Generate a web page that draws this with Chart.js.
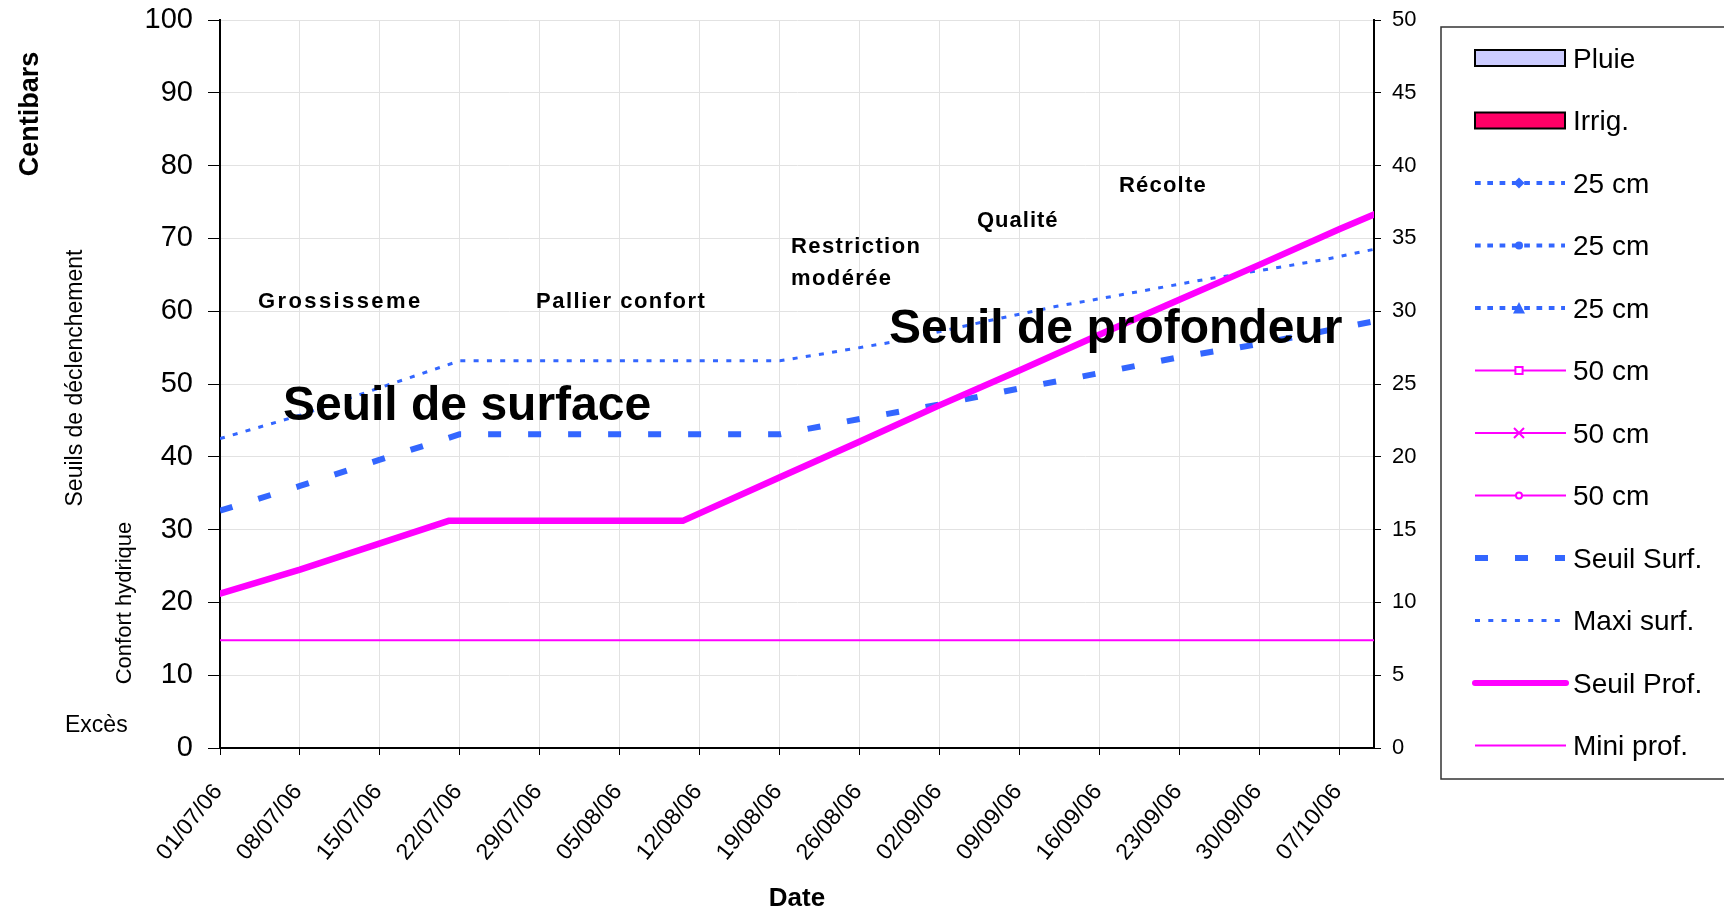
<!DOCTYPE html>
<html>
<head>
<meta charset="utf-8">
<script src="https://cdn.jsdelivr.net/npm/chart.js@4.4.1/dist/chart.umd.min.js"></script>
<style>
  html, body { margin: 0; padding: 0; background: #fff; }
  #wrap { width: 1724px; height: 914px; }
</style>
</head>
<body>
<div id="wrap"><canvas id="chart" width="1724" height="914"></canvas></div>
<script>
// x axis = days since 01/07/06
const startDate = Date.UTC(2006, 6, 1);
const lastDay = 101;
const tickStep = 7;

// Seuil de surface (centibars)
const seuilSurfDays   = [0, 7, 14, 21, 49, 56, 63, 70, 77, 84, 91, 98, 101];
const seuilSurfValues = [32.6, 36.0, 39.6, 43.1, 43.1, 45.2, 47.2, 49.4, 51.5, 53.7, 55.5, 57.7, 58.6];

// Maxi surface
const maxiSurfDays   = [0, 7, 14, 21, 49, 53, 59, 67, 73, 78, 86, 93, 97, 101];
const maxiSurfValues = [42.5, 45.7, 49.5, 53.2, 53.2, 54.2, 55.8, 58.6, 60.6, 62.0, 64.3, 66.1, 67.2, 68.5];

// Seuil de profondeur
const seuilProfDays   = [0, 7, 14, 20, 40.5, 49, 56, 63, 70, 77, 84, 91, 98, 101];
const seuilProfValues = [21.2, 24.5, 28.1, 31.2, 31.2, 37.2, 42.1, 47.1, 51.9, 56.8, 61.6, 66.4, 71.3, 73.3];

// Mini profondeur
const miniProfDays   = [0, 101];
const miniProfValues = [14.8, 14.8];

const FONT = '"Liberation Sans", Arial, sans-serif';
const blue = '#3366ff';
const magenta = '#ff00ff';

function pts(days, values) {
  return days.map((d, i) => ({ x: d, y: values[i] }));
}

function dayLabel(d) {
  const t = new Date(startDate + d * 86400000);
  const dd = String(t.getUTCDate()).padStart(2, '0');
  const mm = String(t.getUTCMonth() + 1).padStart(2, '0');
  const yy = String(t.getUTCFullYear()).slice(2);
  return dd + '/' + mm + '/' + yy;
}

// free text on the chart
const notes = [
  { text: 'Centibars', x: 38, y: 114, size: 27, bold: true, rotate: true },
  { text: 'Seuils de déclenchement', x: 82, y: 378, size: 23, rotate: true },
  { text: 'Confort hydrique', x: 131, y: 603, size: 22, rotate: true },
  { text: 'Excès', x: 65, y: 732, size: 23 },
  { text: 'Grossisseme', x: 258, y: 308, size: 22, bold: true, spacing: 2.4 },
  { text: 'Pallier confort', x: 536, y: 308, size: 22, bold: true, spacing: 1.5 },
  { text: 'Restriction', x: 791, y: 253, size: 22, bold: true, spacing: 1.4 },
  { text: 'modérée', x: 791, y: 285, size: 22, bold: true, spacing: 1.4 },
  { text: 'Qualité', x: 977, y: 227, size: 22, bold: true, spacing: 1.0 },
  { text: 'Récolte', x: 1119, y: 192, size: 22, bold: true, spacing: 1.2 },
  { text: 'Seuil de surface', x: 283, y: 420, size: 48, bold: true },
  { text: 'Seuil de profondeur', x: 889, y: 343, size: 48, bold: true }
];

const textPlugin = {
  id: 'texts',
  afterDatasetsDraw(chart) {
    const ctx = chart.ctx;
    ctx.save();
    ctx.fillStyle = '#000';
    ctx.textBaseline = 'alphabetic';
    notes.forEach(n => {
      ctx.font = (n.bold ? 'bold ' : '') + n.size + 'px ' + FONT;
      ctx.letterSpacing = (n.spacing || 0) + 'px';
      if (n.rotate) {
        ctx.save();
        ctx.translate(n.x, n.y);
        ctx.rotate(-Math.PI / 2);
        ctx.textAlign = 'center';
        ctx.fillText(n.text, 0, 0);
        ctx.restore();
      } else {
        ctx.textAlign = 'left';
        ctx.fillText(n.text, n.x, n.y);
      }
    });
    ctx.letterSpacing = '0px';
    ctx.restore();
  }
};

function drawMarker(ctx, ds, x, y) {
  const r = ds.pointRadius;
  if (!r) return;
  ctx.save();
  ctx.setLineDash([]);
  ctx.strokeStyle = ds.borderColor;
  ctx.fillStyle = ds.pointBackgroundColor || ds.borderColor;
  ctx.lineWidth = 2;
  ctx.beginPath();
  if (ds.pointStyle === 'rectRot') {
    ctx.moveTo(x, y - r); ctx.lineTo(x + r, y); ctx.lineTo(x, y + r); ctx.lineTo(x - r, y); ctx.closePath();
    ctx.fill();
  } else if (ds.pointStyle === 'circle') {
    ctx.arc(x, y, r, 0, Math.PI * 2);
    ctx.fill();
    if (ds.pointBackgroundColor === '#fff') ctx.stroke();
  } else if (ds.pointStyle === 'triangle') {
    ctx.moveTo(x, y - r); ctx.lineTo(x + r, y + r * 0.9); ctx.lineTo(x - r, y + r * 0.9); ctx.closePath();
    ctx.fill();
  } else if (ds.pointStyle === 'rect') {
    ctx.rect(x - r, y - r, 2 * r, 2 * r);
    ctx.fill(); ctx.stroke();
  } else if (ds.pointStyle === 'crossRot') {
    ctx.moveTo(x - r, y - r); ctx.lineTo(x + r, y + r);
    ctx.moveTo(x + r, y - r); ctx.lineTo(x - r, y + r);
    ctx.stroke();
  }
  ctx.restore();
}

const legendPlugin = {
  id: 'boxLegend',
  afterDraw(chart) {
    const ctx = chart.ctx;
    const left = 1441, top = 27, bottom = 779;
    ctx.save();
    ctx.strokeStyle = '#333';
    ctx.lineWidth = 1.5;
    ctx.strokeRect(left, top, 320, bottom - top);

    const x0 = 1475, x1 = 1565, xm = 1519, tx = 1573;
    chart.data.datasets.forEach((ds, i) => {
      const y = 58 + 62.5 * i;
      if (ds.type === 'bar') {
        ctx.fillStyle = ds.backgroundColor;
        ctx.strokeStyle = ds.borderColor;
        ctx.lineWidth = 2;
        ctx.fillRect(x0, y - 8, x1 - x0, 16);
        ctx.strokeRect(x0, y - 8, x1 - x0, 16);
      } else {
        ctx.strokeStyle = ds.borderColor;
        ctx.lineWidth = Math.min(ds.borderWidth, 6);
        ctx.lineCap = ds.borderCapStyle || 'butt';
        ctx.setLineDash(ds.borderDash || []);
        ctx.beginPath();
        ctx.moveTo(x0, y);
        ctx.lineTo(ds.borderDash ? x1 : x1 + 1, y);
        ctx.stroke();
        ctx.setLineDash([]);
        ctx.lineCap = 'butt';
        drawMarker(ctx, ds, xm, y);
      }
      ctx.fillStyle = '#000';
      ctx.font = '28px ' + FONT;
      ctx.textAlign = 'left';
      ctx.textBaseline = 'alphabetic';
      ctx.fillText(ds.label, tx, y + 9.5);
    });
    ctx.restore();
  }
};

const gridColor = c => (c.tick && c.tick.value === 0) ? 'rgba(0,0,0,0)' : '#e2e2e2';

Chart.defaults.font.family = FONT;
Chart.defaults.color = '#000';

new Chart(document.getElementById('chart'), {
  type: 'line',
  data: {
    datasets: [
      { type: 'bar', label: 'Pluie', data: [], yAxisID: 'y1', backgroundColor: '#ccccff', borderColor: '#000', borderWidth: 2 },
      { type: 'bar', label: 'Irrig.', data: [], yAxisID: 'y1', backgroundColor: '#ff0066', borderColor: '#000', borderWidth: 2 },
      { label: '25 cm', data: [], borderColor: blue, borderWidth: 4, borderDash: [5.7, 6.6], pointStyle: 'rectRot', pointRadius: 5.5, pointBackgroundColor: blue },
      { label: '25 cm', data: [], borderColor: blue, borderWidth: 4, borderDash: [5.7, 6.6], pointStyle: 'circle', pointRadius: 4, pointBackgroundColor: blue },
      { label: '25 cm', data: [], borderColor: blue, borderWidth: 4, borderDash: [5.7, 6.6], pointStyle: 'triangle', pointRadius: 6, pointBackgroundColor: blue },
      { label: '50 cm', data: [], borderColor: magenta, borderWidth: 2, pointStyle: 'rect', pointRadius: 3.6, pointBackgroundColor: '#fff' },
      { label: '50 cm', data: [], borderColor: magenta, borderWidth: 2, pointStyle: 'crossRot', pointRadius: 5, pointBackgroundColor: magenta },
      { label: '50 cm', data: [], borderColor: magenta, borderWidth: 2, pointStyle: 'circle', pointRadius: 3, pointBackgroundColor: '#fff' },
      { label: 'Seuil Surf.', data: pts(seuilSurfDays, seuilSurfValues), borderColor: blue, borderWidth: 6, borderDash: [13, 27], pointRadius: 0, order: 2 },
      { label: 'Maxi surf.', data: pts(maxiSurfDays, maxiSurfValues), borderColor: blue, borderWidth: 3, borderDash: [5, 8.3], pointRadius: 0, order: 2 },
      { label: 'Seuil Prof.', data: pts(seuilProfDays, seuilProfValues), borderColor: magenta, borderWidth: 6.5, borderCapStyle: 'round', pointRadius: 0, order: 1 },
      { label: 'Mini prof.', data: pts(miniProfDays, miniProfValues), borderColor: magenta, borderWidth: 2, pointRadius: 0, order: 2 }
    ]
  },
  options: {
    responsive: false,
    animation: false,
    devicePixelRatio: 1,
    layout: { autoPadding: false, padding: { top: 20, right: 284, left: 0, bottom: 0 } },
    elements: { line: { tension: 0, fill: false, borderJoinStyle: 'round' } },
    plugins: { legend: { display: false }, tooltip: { enabled: false } },
    scales: {
      x: {
        type: 'linear', min: 0, max: lastDay, offset: false,
        afterFit: s => { s.height = 166; },
        grid: { offset: false, color: gridColor, tickColor: '#000', tickLength: 7 },
        border: { color: '#000', width: 2 },
        ticks: {
          stepSize: tickStep, includeBounds: false, autoSkip: false, maxTicksLimit: 30,
          minRotation: 51, maxRotation: 51, padding: 24, labelOffset: -2,
          font: { size: 23 }, color: '#000',
          callback: v => dayLabel(v)
        },
        title: { display: true, text: 'Date', font: { size: 26, weight: 'bold' }, color: '#000', padding: 0 }
      },
      y: {
        position: 'left', min: 0, max: 100,
        afterFit: s => { s.width = 220; s.paddingTop = 0; s.paddingBottom = 0; },
        grid: { color: gridColor, tickColor: '#000', tickLength: 12 },
        border: { color: '#000', width: 2 },
        ticks: { stepSize: 10, padding: 15, font: { size: 29 }, color: '#000' }
      },
      y1: {
        position: 'right', min: 0, max: 50,
        afterFit: s => { s.width = 66; s.paddingTop = 0; s.paddingBottom = 0; },
        grid: { drawOnChartArea: false, tickColor: '#000', tickLength: 7 },
        border: { color: '#000', width: 2 },
        ticks: { stepSize: 5, padding: 11, font: { size: 22 }, color: '#000' }
      }
    }
  },
  plugins: [textPlugin, legendPlugin]
});
</script>
</body>
</html>
